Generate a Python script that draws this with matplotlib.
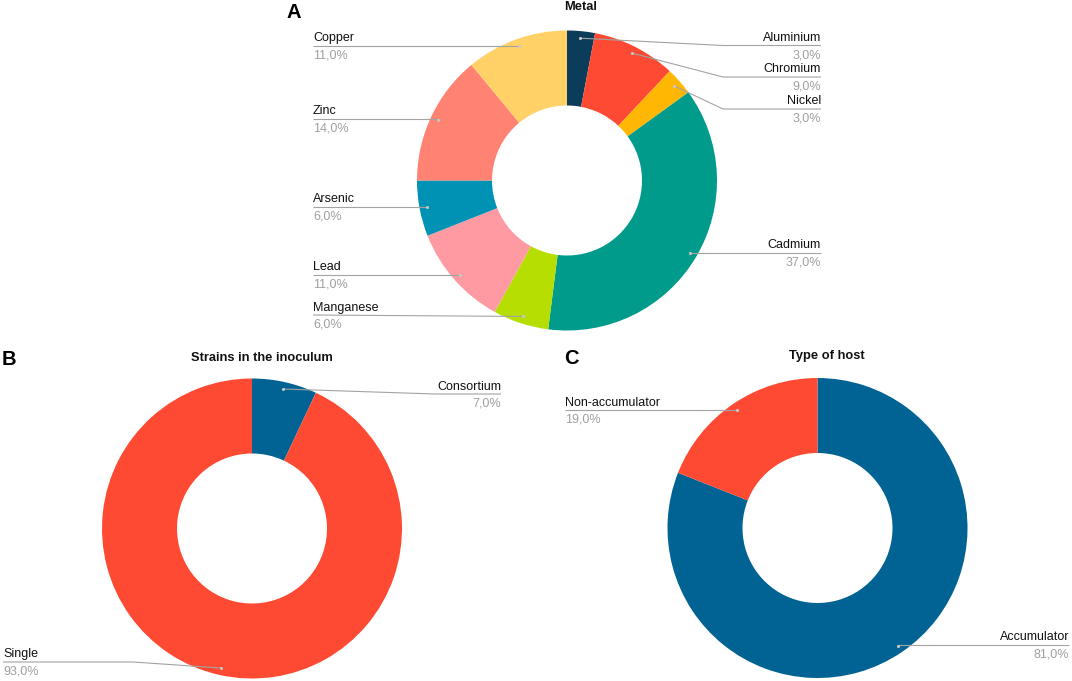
import numpy as np
from matplotlib import pyplot as plt

plt.rcParams['font.family'] = ['Liberation Sans', 'DejaVu Sans']

# data
metal_names = ['Aluminium', 'Chromium', 'Nickel', 'Cadmium', 'Manganese',
               'Lead', 'Arsenic', 'Zinc', 'Copper']
metal_vals = [3, 9, 3, 37, 6, 11, 6, 14, 11]
metal_cols = ['#0b3c59', '#ff4a33', '#ffb703', '#009b8a', '#b6de00',
              '#ff9aa2', '#0092b4', '#ff8273', '#ffd166']

strain_names = ['Consortium', 'Single']
strain_vals = [7, 93]
host_names = ['Accumulator', 'Non-accumulator']
host_vals = [81, 19]
blue = '#006394'
red = '#ff4a33'

# layout: (side, text x, underline y, elbow x or None)
metal_lab = [('r', 821, 45.5, 723), ('r', 821, 77, 723), ('r', 821, 109, 723),
             ('r', 821, 253, None), ('l', 313, 315, 313), ('l', 313, 275, None),
             ('l', 313, 207, None), ('l', 313, 119, None), ('l', 313, 46, None)]
strain_lab = [('r', 501, 394, 435), ('l', 3, 662, 133)]
host_lab = [('r', 1069, 645, None), ('l', 565, 410, None)]

R = 150
W = 75
GRAY_LINE = '#a3a3a3'
GRAY_TXT = '#a0a0a0'

fig = plt.figure(figsize=(10.72, 6.81), dpi=100)
ax = fig.add_axes([0, 0, 1, 1])


def donut(center, vals, names, cols, labs, title, tpos, letter, lpos):
    cx, cy = center
    # y axis is flipped, so counterclock in data = clockwise on screen
    ax.pie(vals, colors=cols, startangle=-90, counterclock=True,
           center=center, radius=R, normalize=True,
           wedgeprops=dict(width=W, linewidth=0))
    frac = np.array(vals, dtype=float) / np.sum(vals)
    mids = (np.cumsum(frac) - frac / 2) * 2 * np.pi
    for m, name, v, (side, tx, ly, ex) in zip(mids, names, vals, labs):
        dx = cx + 0.953 * R * np.sin(m)
        dy = cy - 0.953 * R * np.cos(m)
        if ex is None:
            ex = dx
        ax.plot([dx, ex, tx], [dy, ly, ly], color=GRAY_LINE, lw=0.8,
                solid_capstyle='butt', zorder=3)
        ax.plot([dx], [dy], 'o', ms=2.2, color='#c8c8c8', mew=0, zorder=4)
        ha = 'right' if side == 'r' else 'left'
        ax.text(tx, ly - 4.5, name, ha=ha, va='baseline', fontsize=9,
                color='#111111')
        ax.text(tx, ly + 12.5, f'{v},0%', ha=ha, va='baseline', fontsize=9,
                color=GRAY_TXT)
    ax.text(tpos[0], tpos[1], title, ha='center', va='center',
            fontsize=9.3, fontweight='bold', color='#111111')
    ax.text(lpos[0], lpos[1], letter, ha='center', va='center',
            fontsize=14.5, fontweight='bold', color='black')


donut((567, 180.5), metal_vals, metal_names, metal_cols, metal_lab,
      'Metal', (580.5, 7), 'A', (293.5, 12.5))
donut((252, 528.5), strain_vals, strain_names, [blue, red], strain_lab,
      'Strains in the inoculum', (262, 358), 'B', (9, 359.5))
donut((817.5, 528), host_vals, host_names, [blue, red], host_lab,
      'Type of host', (827, 356), 'C', (571.5, 359))

ax.set_xlim(0, 1072)
ax.set_ylim(681, 0)
ax.set_aspect('auto')
ax.axis('off')

fig.savefig('out.png', dpi=100)
